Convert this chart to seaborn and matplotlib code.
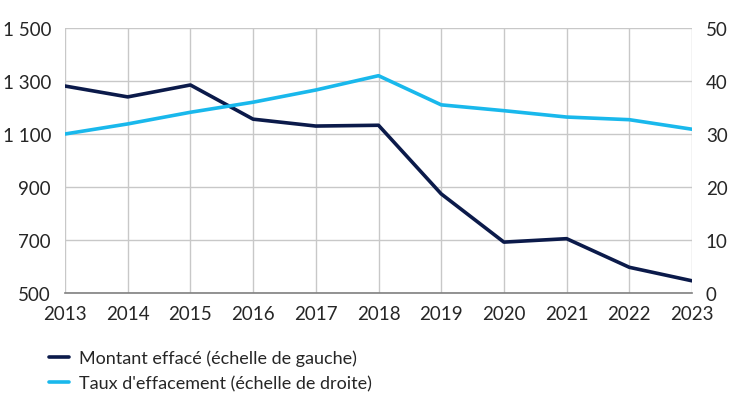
import matplotlib
matplotlib.use("Agg")
import matplotlib.pyplot as plt
import seaborn as sns
import pandas as pd
from matplotlib.lines import Line2D

years = [2013, 2014, 2015, 2016, 2017, 2018, 2019, 2020, 2021, 2022, 2023]
montant = [1281, 1240, 1285, 1156, 1130, 1133, 874, 692, 705, 597, 546]
taux = [30.0, 31.9, 34.1, 36.0, 38.3, 41.0, 35.5, 34.4, 33.2, 32.7, 30.9]
left_ticks = [500, 700, 900, 1100, 1300, 1500]
left_labels = ["500", "700", "900", "1 100", "1 300", "1 500"]
right_ticks = [0, 10, 20, 30, 40, 50]
label_montant = "Montant effacé (échelle de gauche)"
label_taux = "Taux d'effacement (échelle de droite)"

dark = "#0b1a4a"
light = "#19b8ec"

sns.set_theme(style="white")
plt.rcParams['font.family'] = ['Lato', 'DejaVu Sans']

df = pd.DataFrame({"year": years, "montant": montant, "taux": taux})

fig = plt.figure(figsize=(7.3, 4.1), dpi=100)
ax = fig.add_axes([65/730, 1 - 294/410, (692-65)/730, (294-29)/410])
ax2 = ax.twinx()

sns.lineplot(data=df, x="year", y="montant", ax=ax, color=dark, linewidth=2.6)
sns.lineplot(data=df, x="year", y="taux", ax=ax2, color=light, linewidth=2.6)

fs = 13.5
tc = "#262626"
ax.set_xlim(2013, 2023)
ax.set_ylim(500, 1500)
ax2.set_ylim(0, 50)
ax.set_xticks(years)
ax.set_xticklabels([str(y) for y in years], fontsize=fs, color=tc)
ax.set_yticks(left_ticks)
ax.set_yticklabels(left_labels, fontsize=fs, color=tc)
ax2.set_yticks(right_ticks)
ax2.set_yticklabels([str(t) for t in right_ticks], fontsize=fs, color=tc)
ax.set_xlabel("")
ax.set_ylabel("")
ax2.set_ylabel("")

ax.grid(True, color="#c8c8c8", linewidth=1)
ax.set_axisbelow(True)
for s in ["top", "left", "right"]:
    ax.spines[s].set_visible(False)
    ax2.spines[s].set_visible(False)
ax2.spines["bottom"].set_visible(False)
ax.spines["bottom"].set_color("#808080")
ax.spines["bottom"].set_linewidth(1.2)
ax.tick_params(axis="x", length=0, pad=9)
ax.tick_params(axis="y", length=0, pad=10)
ax2.tick_params(axis="y", length=0, pad=10)

handles = [Line2D([], [], color=dark, linewidth=2.6), Line2D([], [], color=light, linewidth=2.6)]
fig.legend(handles, [label_montant, label_taux], loc="upper left",
           bbox_to_anchor=(36/730, 1 - 338/410), frameon=False, fontsize=13,
           handlelength=1.1, handletextpad=0.6, labelspacing=0.5, labelcolor=tc,
           borderpad=0.2)

fig.savefig("out.png", dpi=100)
